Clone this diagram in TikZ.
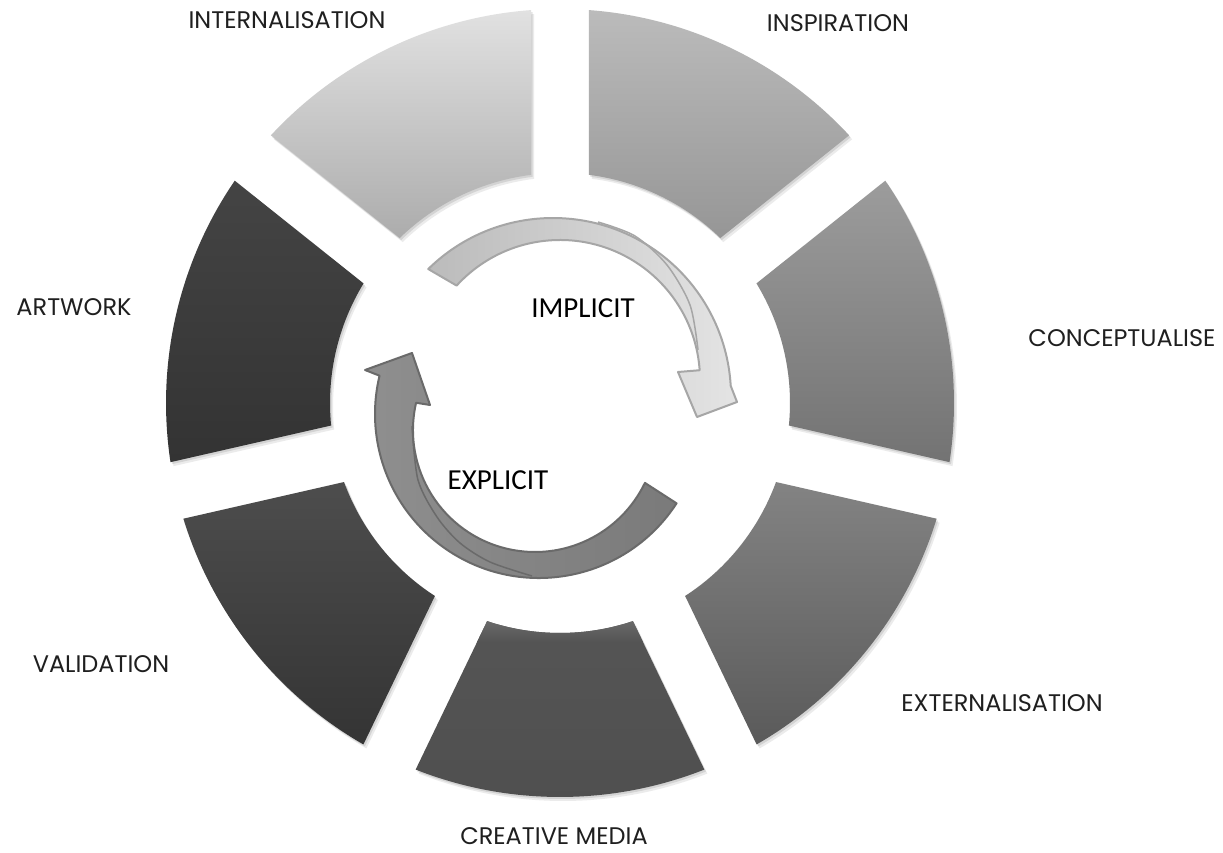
\documentclass[tikz,border=0pt]{standalone}
\usepackage{fontspec}
\usetikzlibrary{calc}
\setmainfont{Poppins}
\newfontfamily\calib{Carlito}
\definecolor{intT}{HTML}{E1E1E1}\definecolor{intB}{HTML}{ACACAC}
\definecolor{inspT}{HTML}{BBBBBB}\definecolor{inspB}{HTML}{969696}
\definecolor{conT}{HTML}{9C9C9C}\definecolor{conB}{HTML}{737373}
\definecolor{extT}{HTML}{838383}\definecolor{extB}{HTML}{5A5A5A}
\definecolor{cmT}{HTML}{6C6C6C}\definecolor{cmM}{HTML}{555555}\definecolor{cmB}{HTML}{4F4F4F}
\definecolor{valT}{HTML}{4D4D4D}\definecolor{valB}{HTML}{343434}
\definecolor{artT}{HTML}{444444}\definecolor{artB}{HTML}{333333}
\definecolor{upL}{HTML}{BBBBBB}\definecolor{upR}{HTML}{E4E4E4}\definecolor{upD}{HTML}{A6A6A6}
\definecolor{loL}{HTML}{8F8F8F}\definecolor{loR}{HTML}{7A7A7A}\definecolor{loD}{HTML}{6A6A6A}
\newcommand\ringseg[4]{%
 \pgfmathsetmacro\sA{#1+4.22}%
 \pgfmathsetmacro\eA{#2-4.22}%
 \pgfmathsetmacro\sB{#2-7.24}%
 \pgfmathsetmacro\eB{#1+7.24}%
 \fill[black,opacity=0.08,shift={(3,-4)}] (\sA:394) arc[start angle=\sA,end angle=\eA,radius=394] -- (\sB:230) arc[start angle=\sB,end angle=\eB,radius=230] -- cycle;
 \fill[black,opacity=0.10,shift={(1.5,-2)}] (\sA:394) arc[start angle=\sA,end angle=\eA,radius=394] -- (\sB:230) arc[start angle=\sB,end angle=\eB,radius=230] -- cycle;
 \path[#3] (\sA:394) arc[start angle=\sA,end angle=\eA,radius=394] -- (\sB:230) arc[start angle=\sB,end angle=\eB,radius=230] -- cycle;
 \ifx\relax#4\relax\else
 \begin{scope}
 \clip (\sA:394) arc[start angle=\sA,end angle=\eA,radius=394] -- (\sB:230) arc[start angle=\sB,end angle=\eB,radius=230] -- cycle;
 #4
 \end{scope}
 \fi
}
\begin{document}
\begin{tikzpicture}[x=1pt,y=1pt,
  lab/.style={font=\fontsize{24}{28}\selectfont, inner sep=0pt, text=black!88},
  midlab/.style={font=\calib\fontsize{29}{34}\selectfont, inner sep=0pt, text=black}]
\useasboundingbox (0,0) rectangle (1223,852);
\fill[white] (0,0) rectangle (1223,852);
\coordinate (O) at (560,449);
% ring segments
\begin{scope}[shift={(O)}]
\ringseg{38.571}{90}{top color=inspT,bottom color=inspB}{}
\ringseg{90}{141.429}{top color=intT,bottom color=intB}{}
\ringseg{141.429}{192.857}{top color=artT,bottom color=artB}{}
\ringseg{192.857}{244.286}{top color=valT,bottom color=valB}{}
\ringseg{244.286}{295.714}{top color=cmM,bottom color=cmB}{\shade[top color=cmT,bottom color=cmM] (-200,-216) rectangle (200,-238);}
\ringseg{295.714}{347.143}{top color=extT,bottom color=extB}{}
\ringseg{347.143}{398.571}{top color=conT,bottom color=conB}{}
\end{scope}
% upper arrow (IMPLICIT)
\coordinate (Cto) at (553,456);
\coordinate (Cti) at (560,472);
\coordinate (uw1) at (737,450);
\coordinate (utip) at (697,435);
\coordinate (uw2) at (678,480);
\path[left color=upL,right color=upR,draw=upD,line width=2pt,line join=round]
  ($(Cto)+(134.5:178)$) arc[start angle=134.5,end angle=3.3,radius=178]
  -- (uw1) -- (utip) -- (uw2)
  -- ($(Cti)+(4:140)$) arc[start angle=4,end angle=137.6,radius=140] -- cycle;
\draw[upD,line width=1.5pt] plot[smooth] coordinates {(598,630) (635,616) (667,587) (690,547) (698,502)};
% lower arrow (EXPLICIT)
\coordinate (Cbo) at (539,438);
\coordinate (Cbi) at (535,422);
\coordinate (lw1) at (365,482);
\coordinate (ltip) at (412,499);
\coordinate (lw2) at (430,447);
\path[left color=loL,right color=loR,draw=loD,line width=2pt,line join=round]
  ($(Cbo)+(-33:164)$) arc[start angle=-33,end angle=-193.5,radius=164]
  -- (lw1) -- (ltip) -- (lw2)
  -- ($(Cbi)+(-192.9:122)$) arc[start angle=-192.9,end angle=-25.7,radius=122] -- cycle;
\draw[loD,line width=1.5pt] plot[smooth] coordinates {(412,426) (418,372) (437,335) (460,309) (490,290) (532,276)};
% labels
\node[lab] (internalisation) at (287,832) {INTERNALISATION};
\node[lab] (inspiration) at (838,829) {INSPIRATION};
\node[lab] (artwork) at (74,545) {ARTWORK};
\node[lab] (conceptualise) at (1122,514) {CONCEPTUALISE};
\node[lab] (externalisation) at (1002,149) {EXTERNALISATION};
\node[lab] (validation) at (101,188) {VALIDATION};
\node[lab] (creativemedia) at (554,16) {CREATIVE MEDIA};
\node[midlab] (implicit) at (583,544) {IMPLICIT};
\node[midlab] (explicit) at (498,372) {EXPLICIT};
\end{tikzpicture}
\end{document}
